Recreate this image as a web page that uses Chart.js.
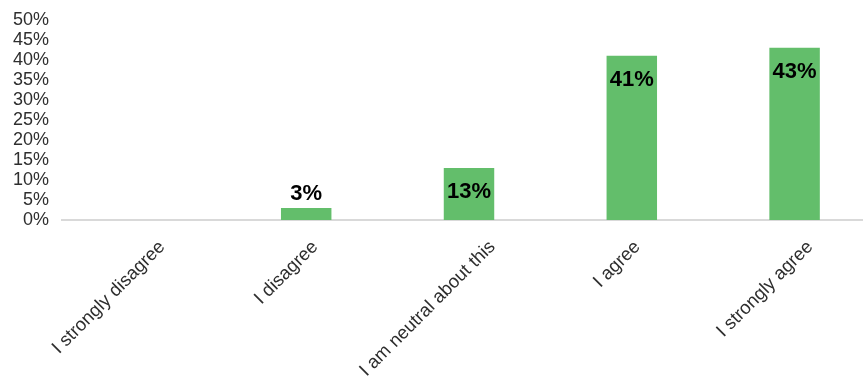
<!DOCTYPE html>
<html>
<head>
<meta charset="utf-8">
<script src="https://cdn.jsdelivr.net/npm/chart.js@4/dist/chart.umd.min.js"></script>
<style>
  html, body { margin: 0; padding: 0; background: #fff; overflow: hidden; }
  #wrap { width: 876px; height: 387px; margin-top: -4px; }
  canvas { display: block; }
</style>
</head>
<body>
<div id="wrap"><canvas id="c" width="876" height="387"></canvas></div>
<script>
// Survey responses (share of respondents, %)
const categories = ['I strongly disagree', 'I disagree', 'I am neutral about this', 'I agree', 'I strongly agree'];
const shares = [0, 3, 13, 41, 43];
const yTicks = [0, 5, 10, 15, 20, 25, 30, 35, 40, 45, 50];

const FONT = '"Liberation Sans", Arial, sans-serif';
const TEXT = '#2e2e2e';

// Percentage labels: inside the top of tall bars, above short ones
const valueLabels = {
  id: 'valueLabels',
  afterDatasetsDraw(chart) {
    const ctx = chart.ctx;
    const meta = chart.getDatasetMeta(0);
    const yScale = chart.scales.y;
    ctx.save();
    ctx.font = 'bold 22px ' + FONT;
    ctx.fillStyle = '#000';
    ctx.textAlign = 'center';
    ctx.textBaseline = 'middle';
    meta.data.forEach((bar, i) => {
      const v = shares[i];
      if (!v) return;
      const top = yScale.getPixelForValue(v);
      const y = v >= 10 ? top + 24 : top - 14;
      ctx.fillText(v + '%', bar.x, y);
    });
    ctx.restore();
  }
};

// Category labels at 45°, ending just right of each tick (longer labels sit further right)
const slantedLabels = {
  id: 'slantedLabels',
  afterDraw(chart) {
    const ctx = chart.ctx;
    const xScale = chart.scales.x;
    ctx.save();
    ctx.font = '18.5px ' + FONT;
    ctx.fillStyle = TEXT;
    ctx.textAlign = 'right';
    ctx.textBaseline = 'middle';
    categories.forEach((label, i) => {
      const w = ctx.measureText(label).width;
      const shift = 0.2 * w * Math.SQRT1_2 - 2.5;
      const x = xScale.getPixelForTick(i) + shift;
      const y = xScale.top + 24;
      ctx.save();
      ctx.translate(x, y);
      ctx.rotate(-Math.PI / 4);
      ctx.fillText(label, 0, 0);
      ctx.restore();
    });
    ctx.restore();
  }
};

new Chart(document.getElementById('c'), {
  type: 'bar',
  data: {
    labels: categories,
    datasets: [{
      data: shares,
      backgroundColor: '#63be6b',
      borderWidth: 0,
      barPercentage: 0.31,
      categoryPercentage: 1
    }]
  },
  options: {
    responsive: false,
    animation: false,
    plugins: { legend: { display: false }, tooltip: { enabled: false } },
    layout: { padding: { top: 4, right: 0, left: 0, bottom: 0 } },
    scales: {
      x: {
        grid: { display: false, drawTicks: false },
        border: { display: true, color: '#d9d9d9', width: 2 },
        ticks: { display: false },
        afterFit(s) { s.height = 163; }
      },
      y: {
        min: 0,
        max: 50,
        afterBuildTicks(s) { s.ticks = yTicks.map(v => ({ value: v })); },
        grid: { display: false, drawTicks: false },
        border: { display: false },
        ticks: {
          color: TEXT,
          autoSkip: false,
          font: { family: FONT, size: 18 },
          padding: 13,
          callback: v => v + '%'
        },
        afterFit(s) { s.width = 62; }
      }
    }
  },
  plugins: [valueLabels, slantedLabels]
});
</script>
</body>
</html>
